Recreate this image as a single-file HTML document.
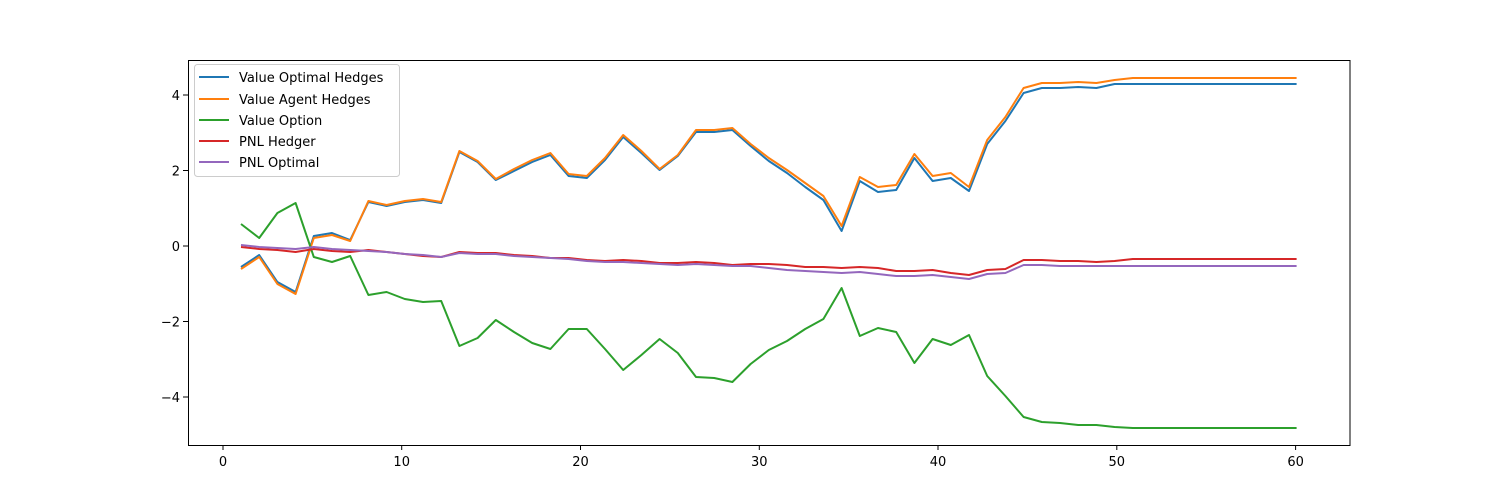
<!DOCTYPE html>
<html><head><meta charset="utf-8"><style>body{margin:0;background:#fff}svg{display:block}text{font-family:"DejaVu Sans","Liberation Sans",sans-serif;font-size:13px;fill:#000}</style></head>
<body>
<svg width="1500" height="500" xmlns="http://www.w3.org/2000/svg">
<rect width="1500" height="500" fill="#fff"/>
<g id="lines" fill="none" stroke-width="2" stroke-linejoin="round"></g>
<rect x="188.5" y="60.5" width="1161.5" height="385" fill="none" stroke="#000" stroke-width="1"/>
<g stroke="#000" stroke-width="1">
<line x1="223" y1="445" x2="223" y2="450"/><line x1="401.7" y1="445" x2="401.7" y2="450"/><line x1="580.5" y1="445" x2="580.5" y2="450"/><line x1="759.3" y1="445" x2="759.3" y2="450"/><line x1="938" y1="445" x2="938" y2="450"/><line x1="1116.8" y1="445" x2="1116.8" y2="450"/><line x1="1295.6" y1="445" x2="1295.6" y2="450"/>
<line x1="183" y1="95" x2="188" y2="95"/><line x1="183" y1="170.5" x2="188" y2="170.5"/><line x1="183" y1="246" x2="188" y2="246"/><line x1="183" y1="321.5" x2="188" y2="321.5"/><line x1="183" y1="397" x2="188" y2="397"/>
</g>
<g text-anchor="middle">
<text x="223" y="466">0</text><text x="401.7" y="466">10</text><text x="580.5" y="466">20</text><text x="759.3" y="466">30</text><text x="938" y="466">40</text><text x="1116.8" y="466">50</text><text x="1295.6" y="466">60</text>
</g>
<g text-anchor="end">
<text x="180" y="100">4</text><text x="180" y="175.5">2</text><text x="180" y="251">0</text><text x="180" y="326.5">−2</text><text x="180" y="402">−4</text>
</g>
<rect x="194.5" y="64.5" width="205" height="112" rx="3" fill="#fff" fill-opacity="0.8" stroke="#ccc"/>
<g stroke-width="2">
<line x1="199" y1="77" x2="229" y2="77" stroke="#1f77b4"/>
<line x1="199" y1="99" x2="229" y2="99" stroke="#ff7f0e"/>
<line x1="199" y1="120" x2="229" y2="120" stroke="#2ca02c"/>
<line x1="199" y1="141" x2="229" y2="141" stroke="#d62728"/>
<line x1="199" y1="162" x2="229" y2="162" stroke="#9467bd"/>
</g>
<text x="239" y="82">Value Optimal Hedges</text>
<text x="239" y="104">Value Agent Hedges</text>
<text x="239" y="125">Value Option</text>
<text x="239" y="146">PNL Hedger</text>
<text x="239" y="167">PNL Optimal</text>
</svg>
<script>
var blue=[267,255,282,292,236,233,240,202,206,202,200,203,152,162,180,171,162,155,176,178,160,137,153,170,156,132,132,130,146,161,173,187,200,231,181,192,190,158,181,178,191,144,121,93,88,88,87,88,84];
var orange=[269,257,284,294,238,235,241,201,205,201,199,202,151,161,179,169,160,153,174,176,158,135,151,169,155,130,130,128,144,158,170,183,196,226,177,187,185,154,176,173,187,140,117,88,83,83,82,83,80];
var green=[224,238,213,203,257,262,256,295,292,299,302,301,346,338,320,332,343,349,329,329,349,370,355,339,353,377,378,382,364,350,341,329,319,288,336,328,332,363,339,345,335,376,396,417,422,423,425,425,427];
var red=[247,249,250,252,249,251,252,250,252,254,256,257,252,253,253,255,256,258,258,260,261,260,261,263,263,262,263,265,264,264,265,267,267,268,267,268,271,271,270,273,275,270,269,260,260,261,261,262,261];
var purple=[245,247,248,249,247,249,250,251,252,254,255,257,253,254,254,256,257,258,259,261,262,262,263,264,265,264,265,266,266,268,270,271,272,273,272,274,276,276,275,277,279,274,273,265,265,266,266,266,266];
function ext(a,v1,v){a.push(v1);while(a.length<59)a.push(v);return a;}
ext(blue,84,84);ext(orange,78,78);ext(green,428,428);ext(red,259,259);ext(purple,266,266);
var g=document.getElementById('lines');
[[blue,'#1f77b4'],[orange,'#ff7f0e'],[green,'#2ca02c'],[red,'#d62728'],[purple,'#9467bd']].forEach(function(s){
var p=s[0].map(function(y,i){return (241+i*18.2).toFixed(1)+','+y;}).join(' ');
var e=document.createElementNS('http://www.w3.org/2000/svg','polyline');
e.setAttribute('points',p);e.setAttribute('stroke',s[1]);g.appendChild(e);});
</script>
</body></html>
